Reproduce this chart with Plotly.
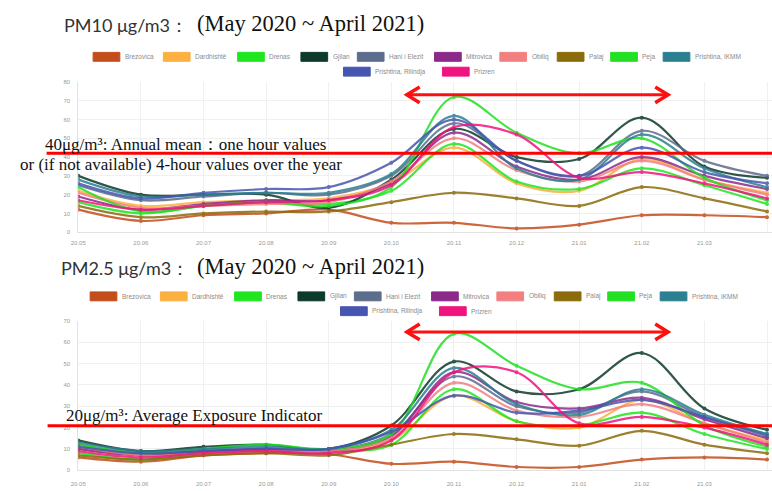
import plotly.graph_objects as go

# ---------------- data ----------------
months = ["20.05", "20.06", "20.07", "20.08", "20.09", "20.10",
          "20.11", "20.12", "21.01", "21.02", "21.03", "21.04"]
stations = ["Brezovica", "Dardhishtë", "Drenas", "Gjilan", "Hani i Elezit", "Mitrovica",
            "Obiliq", "Palaj", "Peja", "Prishtina, IKMM", "Prishtina, Rilindja", "Prizren"]
colors = ["#c44d1c", "#fbb040", "#1fe61f", "#0d3a2a", "#5d6d8e", "#8c2a8c",
          "#f28080", "#8b6b0a", "#22e022", "#2a8090", "#4656b0", "#f0147e"]

# PM10 (µg/m3)
pm10_brezovica = [12, 6, 9, 10, 12, 5, 5, 2, 4, 9, 9, 8]
pm10_dardhishte = [22, 14, 16, 17, 18, 26, 45, 26, 22, 39, 28, 21]
pm10_drenas = [16, 10, 14, 16, 15, 22, 47, 27, 23, 34, 25, 15]
pm10_gjilan = [30, 20, 20, 20, 13, 28, 55, 40, 39, 61, 35, 29]
pm10_hani = [25, 17, 19, 21, 20, 30, 58, 38, 30, 54, 38, 30]
pm10_mitrovica = [19, 12, 15, 17, 17, 26, 53, 35, 28, 40, 30, 23]
pm10_obiliq = [21, 13, 14, 15, 16, 27, 50, 33, 27, 38, 28, 20]
pm10_palaj = [14, 8, 10, 11, 11, 16, 21, 18, 14, 24, 18, 11]
pm10_peja = [24, 11, 14, 16, 14, 24, 72, 53, 42, 50, 29, 17]
pm10_ikmm = [28, 19, 20, 21, 21, 31, 62, 34, 28, 52, 34, 24]
pm10_rilindja = [26, 18, 21, 23, 24, 37, 60, 38, 30, 45, 32, 26]
pm10_prizren = [17, 12, 14, 16, 17, 25, 56, 52, 29, 32, 26, 18]

# PM2.5 (µg/m3)
pm25_brezovica = [6, 4, 7, 8, 7.5, 3, 4, 1.5, 1.5, 5, 6, 5]
pm25_dardhishte = [10, 7, 8, 9, 9, 14, 35, 23, 20, 33, 22, 14]
pm25_drenas = [8, 5, 8, 9, 9, 12, 38, 23, 21, 27, 17, 10]
pm25_gjilan = [14, 9, 11, 12, 10, 21, 51, 37, 38, 55, 29, 19]
pm25_hani = [12, 8, 9, 10, 9, 17, 44, 30, 27, 37, 25, 17]
pm25_mitrovica = [10, 7, 9, 10, 9, 16, 46, 32, 29, 34, 24, 15]
pm25_obiliq = [11, 7, 8, 9, 9, 15, 41, 28, 25, 31, 22, 13]
pm25_palaj = [7, 5, 7, 8, 7, 12, 17, 14.5, 11.5, 18.5, 12, 8]
pm25_peja = [12, 8, 10, 12, 10, 17, 64, 49, 38, 41, 21, 11]
pm25_ikmm = [13, 9, 10, 11, 10, 19, 48, 31, 26, 38, 26, 17]
pm25_rilindja = [11, 8, 9, 10, 10, 18, 35, 27, 28, 33, 25, 16]
pm25_prizren = [9, 6, 8, 9, 8, 14, 46, 46, 22, 25, 20, 12]

pm10_series = [pm10_brezovica, pm10_dardhishte, pm10_drenas, pm10_gjilan, pm10_hani,
               pm10_mitrovica, pm10_obiliq, pm10_palaj, pm10_peja, pm10_ikmm,
               pm10_rilindja, pm10_prizren]
pm25_series = [pm25_brezovica, pm25_dardhishte, pm25_drenas, pm25_gjilan, pm25_hani,
               pm25_mitrovica, pm25_obiliq, pm25_palaj, pm25_peja, pm25_ikmm,
               pm25_rilindja, pm25_prizren]

# ---------------- layout helpers ----------------
W, H = 772, 491


def px(x):
    return x / W


def py(y):
    return 1 - y / H


fig = go.Figure()
xidx = list(range(len(months)))

for i, name in enumerate(stations):
    fig.add_trace(go.Scatter(
        x=xidx, y=pm10_series[i], name=name, mode="lines+markers",
        line=dict(color=colors[i], width=2.2, shape="spline", smoothing=1),
        marker=dict(color=colors[i], size=4), opacity=0.85,
        xaxis="x", yaxis="y", showlegend=False, hoverinfo="skip"))
for i, name in enumerate(stations):
    fig.add_trace(go.Scatter(
        x=xidx, y=pm25_series[i], name=name, mode="lines+markers",
        line=dict(color=colors[i], width=2.2, shape="spline", smoothing=1),
        marker=dict(color=colors[i], size=4), opacity=0.85,
        xaxis="x2", yaxis="y2", showlegend=False, hoverinfo="skip"))

x_left = 71
x_step = 63.27
x_max = (W - x_left) / x_step

axis_common = dict(showgrid=True, gridcolor="#f0f0f0", zeroline=False,
                   showline=True, linecolor="#e2e2e2", linewidth=1,
                   tickfont=dict(size=6, color="#9a9a9a", family="Liberation Sans"))

shapes = []
annotations = []

# Manual legends (Chart.js-style boxes)
row1_x = [86, 157, 232, 296, 353, 431, 497, 555, 609, 662]
row2_x = [339, 439]
sw_w, sw_h = 27, 9


def add_legend(y_row1, y_row2, dx):
    pos = [(x + dx, y_row1) for x in row1_x] + [(x + dx, y_row2) for x in row2_x]
    for i, (x0, yc) in enumerate(pos):
        shapes.append(dict(type="rect", xref="paper", yref="paper",
                           x0=px(x0), x1=px(x0 + sw_w), y0=py(yc + sw_h / 2), y1=py(yc - sw_h / 2),
                           fillcolor=colors[i], line=dict(color=colors[i], width=1)))
        annotations.append(dict(xref="paper", yref="paper", x=px(x0 + sw_w + 3), y=py(yc),
                                text=stations[i], showarrow=False, xanchor="left", yanchor="middle",
                                font=dict(size=6.5, color="#8a8a8a", family="Liberation Sans")))


add_legend(54.5, 69.5, 0)
add_legend(297, 312, -3)

# Titles
for ty, label, tx in [(22, "PM10 μg/m3：", 55), (268, "PM2.5 μg/m3：", 52)]:
    annotations.append(dict(xref="paper", yref="paper", x=px(tx), y=py(ty), text=label,
                            showarrow=False, xanchor="left", yanchor="middle",
                            font=dict(size=18, color="#333333", family="Lato")))
    annotations.append(dict(xref="paper", yref="paper", x=px(189), y=py(ty - 1),
                            text="(May 2020 ~ April 2021)", showarrow=False,
                            xanchor="left", yanchor="middle",
                            font=dict(size=22.5, color="#111111", family="Liberation Serif")))

# Red threshold lines
for yl, xs in [(152, 39), (428, 40)]:
    shapes.append(dict(type="line", xref="paper", yref="paper", x0=px(xs), x1=1,
                       y0=py(yl), y1=py(yl), line=dict(color="#ff0000", width=3)))

# Red double arrows
for ya in [93, 333]:
    xa, xb = 403, 667
    shapes.append(dict(type="line", xref="paper", yref="paper", x0=px(xa), x1=px(xb),
                       y0=py(ya), y1=py(ya), line=dict(color="#ff1010", width=3)))
    for tip, d in [(xa, 1), (xb, -1)]:
        path = "M {},{} L {},{} L {},{}".format(
            px(tip + d * 13), py(ya - 8), px(tip), py(ya), px(tip + d * 13), py(ya + 8))
        shapes.append(dict(type="path", xref="paper", yref="paper", path=path,
                           line=dict(color="#ff1010", width=3.5)))

# Threshold texts
serif = dict(size=17, color="#111111", family="Liberation Serif")
annotations.append(dict(xref="paper", yref="paper", x=px(35), y=py(143),
                        text="40μg/m³: Annual mean：one hour values", showarrow=False,
                        xanchor="left", yanchor="middle", font=serif))
annotations.append(dict(xref="paper", yref="paper", x=px(10), y=py(163),
                        text="or (if not available) 4-hour values over the year", showarrow=False,
                        xanchor="left", yanchor="middle", font=serif))
annotations.append(dict(xref="paper", yref="paper", x=px(57), y=py(418),
                        text="20μg/m³: Average Exposure Indicator", showarrow=False,
                        xanchor="left", yanchor="middle", font=serif))

fig.update_layout(
    width=W, height=H,
    margin=dict(l=0, r=0, t=0, b=0),
    paper_bgcolor="white", plot_bgcolor="white",
    showlegend=False,
    xaxis=dict(domain=[px(x_left), 1], range=[0, x_max], tickvals=xidx, ticktext=months,
               anchor="y", ticklabelstandoff=5, **axis_common),
    yaxis=dict(domain=[py(232), py(80)], range=[0, 80], dtick=10, anchor="x",
               ticklabelstandoff=6, **axis_common),
    xaxis2=dict(domain=[px(x_left), 1], range=[0, x_max], tickvals=xidx, ticktext=months,
                anchor="y2", ticklabelstandoff=8, **axis_common),
    yaxis2=dict(domain=[py(473), py(322)], range=[0, 70], dtick=10, anchor="x2",
                ticklabelstandoff=6, **axis_common),
    shapes=shapes,
    annotations=annotations,
)

fig.write_html("out.html",
               config={"displayModeBar": False, "staticPlot": True},
               post_script="document.body.style.margin='0';document.body.style.overflow='hidden';")
